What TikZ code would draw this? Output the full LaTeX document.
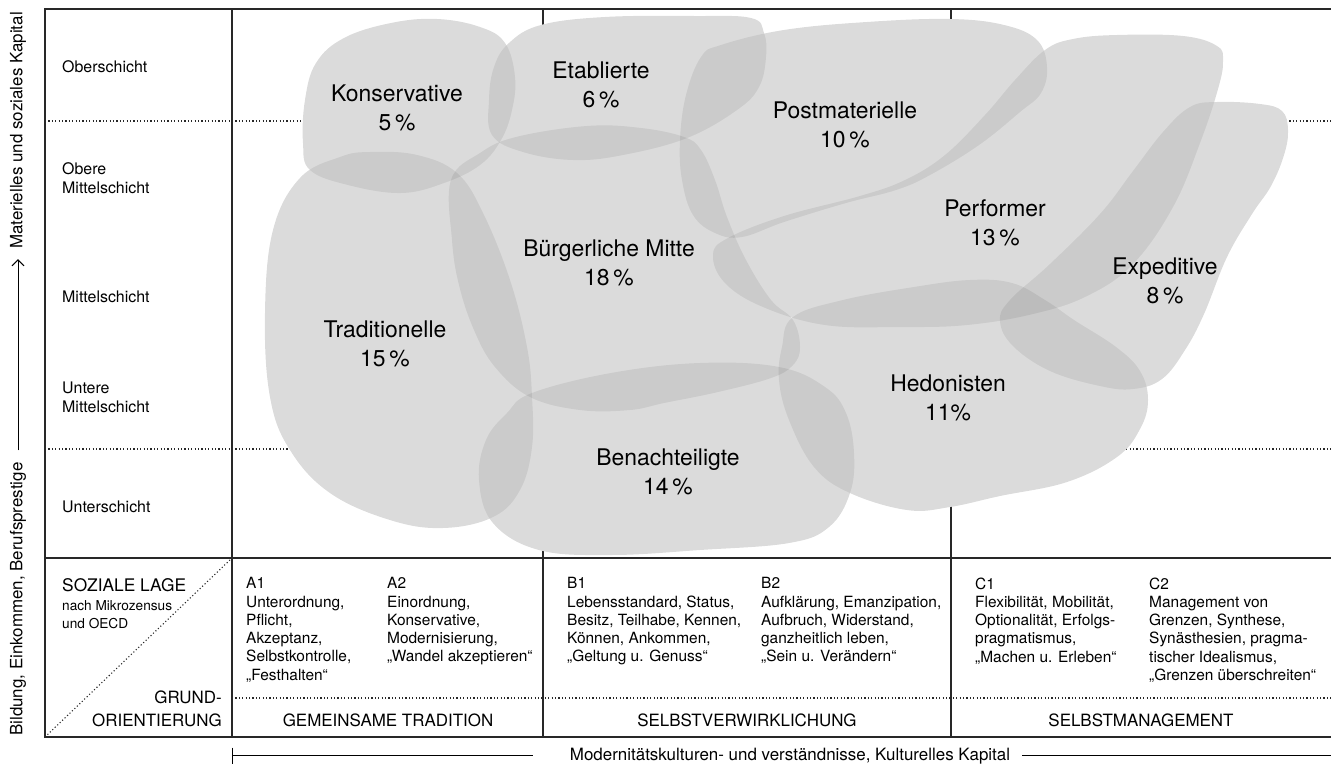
\documentclass[tikz,border=0pt]{standalone}
\usepackage{fontspec}
\setmainfont{TeX Gyre Heros}
\usetikzlibrary{arrows.meta}

\definecolor{blobfill}{RGB}{236,236,236}
\definecolor{rulegray}{RGB}{40,40,40}

% milieu outlines, in pixels of the sheet
\newcommand{\milieushapes}[1]{%
  % Konservative
  \path[#1] plot[smooth cycle, tension=0.65] coordinates {(344,38) (391,23) (437,19) (480,27) (505,43) (515,77) (512,110) (501,140) (480,165) (444,183) (401,193) (348,185) (310,170) (303,143) (305,100) (316,63)};
  % Etablierte
  \path[#1] plot[smooth cycle, tension=0.65] coordinates {(509,43) (541,25) (605,17) (694,16) (751,18) (764,33) (766,57) (759,87) (737,110) (687,138) (623,155) (573,160) (523,152) (492,135) (489,100) (494,67)};
  % Postmaterielle
  \path[#1] plot[smooth cycle, tension=0.65] coordinates {(701,57) (721,45) (784,30) (867,22) (950,19) (1004,25) (1037,40) (1047,67) (1041,93) (1020,112) (979,145) (930,175) (896,190) (846,203) (784,222) (742,237) (715,233) (693,215) (682,180) (680,140) (686,95)};
  % Performer
  \path[#1] plot[smooth cycle, tension=0.65] coordinates {(1045,50) (1073,39) (1117,35) (1183,36) (1217,46) (1223,61) (1218,89) (1200,143) (1173,207) (1133,264) (1087,296) (1033,314) (967,325) (900,327) (825,325) (763,307) (725,283) (713,255) (728,238) (784,216) (860,196) (905,180) (945,155) (985,115) (1015,80)};
  % Expeditive
  \path[#1] plot[smooth cycle, tension=0.65] coordinates {(1190,107) (1217,102) (1260,104) (1282,111) (1288,130) (1284,155) (1271,186) (1252,214) (1227,257) (1204,314) (1185,350) (1162,379) (1133,389) (1100,386) (1050,371) (1013,346) (1000,321) (1010,300) (1050,264) (1100,214) (1133,171) (1163,132)};
  % Buergerliche Mitte
  \path[#1] plot[smooth cycle, tension=0.65] coordinates {(451,180) (480,153) (516,137) (587,126) (641,128) (684,137) (701,150) (715,180) (727,217) (746,260) (771,300) (793,320) (800,347) (793,365) (771,378) (718,392) (664,403) (630,410) (580,410) (530,397) (495,367) (474,330) (459,285) (452,240)};
  % Traditionelle
  \path[#1] plot[smooth cycle, tension=0.65] coordinates {(340,157) (370,152) (417,155) (457,173) (483,213) (510,280) (527,347) (532,397) (532,447) (520,490) (493,517) (443,528) (390,520) (330,493) (290,450) (270,397) (265,313) (273,230) (300,178)};
  % Hedonisten
  \path[#1] plot[smooth cycle, tension=0.65] coordinates {(793,317) (843,300) (914,287) (970,280) (1012,283) (1045,300) (1074,320) (1116,347) (1140,371) (1148,400) (1140,429) (1117,457) (1067,482) (1000,496) (950,507) (907,510) (850,493) (814,467) (789,420) (779,380) (782,347)};
  % Benachteiligte
  \path[#1] plot[smooth cycle, tension=0.65] coordinates {(532,393) (611,373) (700,363) (779,367) (825,387) (846,413) (854,453) (850,493) (829,527) (789,543) (700,550) (611,555) (539,550) (493,523) (479,480) (486,440) (507,413)};
}

\begin{document}
\begin{tikzpicture}[x=1bp, y=-1bp,
    frame line/.style={draw=rulegray, line width=1.2bp},
    dot line/.style={draw=rulegray, line width=1.1bp, dash pattern=on 1.1bp off 2.3bp},
    milieu node/.style={font=\fontsize{23}{29}\selectfont, align=center, inner sep=0pt},
    layer node/.style={font=\fontsize{16}{19}\selectfont, anchor=west, align=left, inner sep=0pt},
    value node/.style={font=\fontsize{15.5}{18.3}\selectfont, anchor=north west, align=left, inner sep=0pt},
    caps node/.style={font=\fontsize{17}{20}\selectfont, inner sep=0pt},
    axis node/.style={font=\fontsize{17}{20}\selectfont, inner sep=0pt}]

  \useasboundingbox (0,0) rectangle (1331,767);

  % Grid
  \draw[dot line] (45,121) -- (1331,121);
  \draw[dot line] (45,449) -- (1331,449);
  \draw[dot line] (232,698) -- (1331,698);
  \draw[dot line] (45,737) -- (232,558);
  \draw[frame line] (1331,9) -- (45,9) -- (45,737) -- (1331,737);
  \draw[frame line] (45,558) -- (1331,558);
  \foreach \x in {232,543,951}
    \draw[frame line] (\x,9) -- (\x,737);

  % Milieus
  \milieushapes{fill=blobfill}
  \milieushapes{fill=black, fill opacity=0.072}

  \node[milieu node] (kons) at (397,108) {Konservative\\5\,\%};
  \node[milieu node] (etab) at (601,85) {Etablierte\\6\,\%};
  \node[milieu node] (post) at (845,125) {Postmaterielle\\10\,\%};
  \node[milieu node] (perf) at (995,223) {Performer\\13\,\%};
  \node[milieu node] (expe) at (1165,281) {Expeditive\\8\,\%};
  \node[milieu node] (buer) at (609,263) {Bürgerliche Mitte\\18\,\%};
  \node[milieu node] (trad) at (385,344) {Traditionelle\\15\,\%};
  \node[milieu node] (hedo) at (948,398) {Hedonisten\\11\%};
  \node[milieu node] (bena) at (668,472) {Benachteiligte\\14\,\%};

  % Schichten
  \node[layer node] (ober) at (62,67) {Oberschicht};
  \node[layer node] (obmi) at (62,178) {Obere\\Mittelschicht};
  \node[layer node] (mitt) at (62,297) {Mittelschicht};
  \node[layer node] (unmi) at (62,397) {Untere\\Mittelschicht};
  \node[layer node] (unte) at (62,507) {Unterschicht};

  % Legende links unten
  \node[caps node, anchor=west, font=\fontsize{17.4}{20}\selectfont] (lage) at (62,585) {SOZIALE LAGE};
  \node[anchor=north west, align=left, inner sep=0pt, font=\fontsize{13.7}{18}\selectfont] (zensus) at (62,600) {nach Mikrozensus\\und OECD};
  \node[caps node, anchor=east] (grund) at (222,697) {GRUND-};
  \node[caps node, anchor=east] (orient) at (222,720) {ORIENTIERUNG};

  % Grundorientierungen
  \node[value node] (a1) at (246,577.5) {A1\\Unterordnung,\\Pflicht,\\Akzeptanz,\\Selbstkontrolle,\\„Festhalten“};
  \node[value node] (a2) at (387,577.5) {A2\\Einordnung,\\Konservative,\\Modernisierung,\\„Wandel akzeptieren“};
  \node[value node] (b1) at (567,577.5) {B1\\Lebensstandard, Status,\\Besitz, Teilhabe, Kennen,\\Können, Ankommen,\\„Geltung u. Genuss“};
  \node[value node] (b2) at (761,577.5) {B2\\Aufklärung, Emanzipation,\\Aufbruch, Widerstand,\\ganzheitlich leben,\\„Sein u. Verändern“};
  \node[value node] (c1) at (975,577.5) {C1\\Flexibilität, Mobilität,\\Optionalität, Erfolgs-\\pragmatismus,\\„Machen u. Erleben“};
  \node[value node] (c2) at (1149,577.5) {C2\\Management von\\Grenzen, Synthese,\\Synästhesien, pragma-\\tischer Idealismus,\\„Grenzen überschreiten“};

  \node[caps node] (tradition) at (388,720) {GEMEINSAME TRADITION};
  \node[caps node] (verwirkl) at (747,720) {SELBSTVERWIRKLICHUNG};
  \node[caps node] (manage) at (1141,720) {SELBSTMANAGEMENT};

  % Achsen
  \node[axis node, rotate=90, anchor=west] (kapLow) at (18,736) {Bildung, Einkommen, Berufsprestige};
  \node[axis node, rotate=90, anchor=east] (kapHigh) at (18,12) {Materielles und soziales Kapital};
  \draw[line width=1bp, shorten <=12bp, shorten >=10bp,
        -{Straight Barb[length=6bp, width=12bp]}] (kapLow.east) -- (kapHigh.west);

  \coordinate (modStart) at (232,755.5);
  \coordinate (modEnd) at (1331,755.5);
  \node[axis node] (modText) at (790,756.5) {Modernitätskulturen- und verständnisse, Kulturelles Kapital};
  \draw[line width=1bp] ([yshift=8bp]modStart) -- ([yshift=-8bp]modStart);
  \draw[line width=1bp, shorten >=37bp] (modStart) -- (modStart -| modText.west);
  \draw[line width=1bp, shorten <=12bp] (modText.east |- modEnd) -- (modEnd);

\end{tikzpicture}
\end{document}
